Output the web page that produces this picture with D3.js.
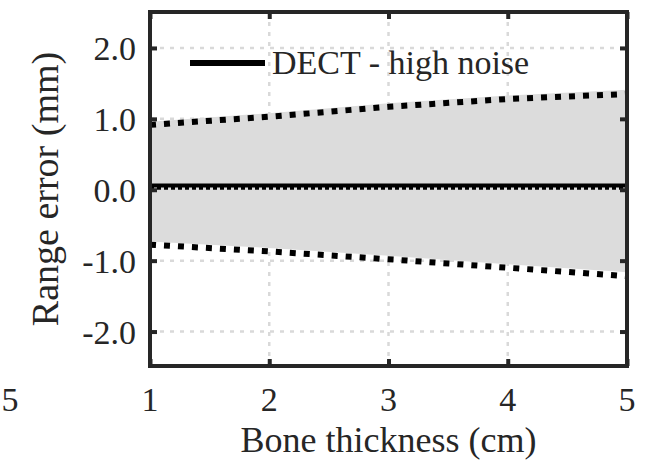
<!DOCTYPE html>
<html><head><meta charset="utf-8">
<script src="https://cdn.jsdelivr.net/npm/d3@7"></script>
</head><body style="margin:0"><svg id="c" width="649" height="472"></svg>
<script>
const thickness = [1, 2, 3, 4, 5];
const meanErr = [0.06, 0.06, 0.06, 0.06, 0.06];
const meanDotted = [0.02, 0.02, 0.02, 0.02, 0.02];
const upperLine = [0.915, 1.03, 1.17, 1.28, 1.35];
const lowerLine = [-0.775, -0.87, -0.98, -1.10, -1.22];
const bandUpper = [0.96, 1.08, 1.22, 1.33, 1.41];
const bandLower = [-0.73, -0.82, -0.93, -1.05, -1.165];
const xTicks = [1, 2, 3, 4, 5];
const yTicks = [-2, -1, 0, 1, 2];
const legendLabel = "DECT - high noise";
const xLabel = "Bone thickness (cm)";
const yLabel = "Range error (mm)";

const svg = d3.select("#c");
const L = 150, R = 627, T = 12, B = 366;
const x = d3.scaleLinear().domain([1, 5]).range([L, R]);
const y = d3.scaleLinear().domain([-2.5, 2.5]).range([B + 1, T + 0.5]);

const BASE = 26;
function label(px, py, size, anchor, txt, rot) {
  const k = size / BASE;
  return svg.append("text")
    .attr("transform", `translate(${px},${py})` + (rot ? ` rotate(${rot})` : "") + ` scale(${k})`)
    .attr("text-anchor", anchor)
    .style("font-family", "'Liberation Serif'").style("font-size", BASE + "px")
    .attr("fill", "#262626").text(txt);
}

// grid
const g = svg.append("g");
g.selectAll(".gx").data(xTicks.slice(1, -1)).join("line")
  .attr("x1", d => x(d)).attr("x2", d => x(d)).attr("y1", T).attr("y2", B)
  .attr("stroke", "#d9d9d9").attr("stroke-width", 2.5).attr("stroke-dasharray", "4,6");
g.selectAll(".gy").data(yTicks).join("line")
  .attr("y1", d => y(d)).attr("y2", d => y(d)).attr("x1", L).attr("x2", R)
  .attr("stroke", "#d9d9d9").attr("stroke-width", 2.5).attr("stroke-dasharray", "4,6");

// band
const pts = thickness.map((t, i) => ({t, u: bandUpper[i], l: bandLower[i]}));
svg.append("path").datum(pts)
  .attr("d", d3.area().x(d => x(d.t)).y0(d => y(d.l)).y1(d => y(d.u)))
  .attr("fill", "#dcdcdc");

const line = d3.line().x((d, i) => x(thickness[i])).y(d => y(d));
svg.append("path").datum(upperLine).attr("d", line).attr("fill", "none")
  .attr("stroke", "#000").attr("stroke-width", 6).attr("stroke-dasharray", "6,8");
svg.append("path").datum(lowerLine).attr("d", line).attr("fill", "none")
  .attr("stroke", "#000").attr("stroke-width", 6).attr("stroke-dasharray", "6,8");
svg.append("path").datum(meanDotted).attr("d", line).attr("fill", "none")
  .attr("stroke", "#000").attr("stroke-width", 3).attr("stroke-dasharray", "4,3");
svg.append("path").datum(meanErr).attr("d", line).attr("fill", "none")
  .attr("stroke", "#000").attr("stroke-width", 4);

// box
svg.append("rect").attr("x", L).attr("y", T).attr("width", R - L).attr("height", B - T)
  .attr("fill", "none").attr("stroke", "#262626").attr("stroke-width", 4);

// inward tick marks
const axL = svg.append("g").attr("transform", `translate(${L},0)`)
  .call(d3.axisLeft(y).tickValues(yTicks).tickSize(-7).tickFormat(""));
const axR = svg.append("g").attr("transform", `translate(${R},0)`)
  .call(d3.axisRight(y).tickValues(yTicks).tickSize(-7).tickFormat(""));
const axB = svg.append("g").attr("transform", `translate(0,${B})`)
  .call(d3.axisBottom(x).tickValues(xTicks).tickSize(-7).tickFormat(""));
const axT = svg.append("g").attr("transform", `translate(0,${T})`)
  .call(d3.axisTop(x).tickValues(xTicks).tickSize(-7).tickFormat(""));
[axL, axR, axB, axT].forEach(a => {
  a.select(".domain").remove();
  a.selectAll(".tick text").remove();
  a.selectAll(".tick line").attr("stroke", "#262626").attr("stroke-width", 4);
});

// tick labels
yTicks.forEach(d => label(136, y(d) + 12, 34, "end", d3.format(".1f")(d).replace("\u2212", "-")));
xTicks.forEach(d => label(x(d), 411, 34, "middle", String(d)));
label(10, 411, 34, "middle", "5");

// axis titles
label((L + R) / 2, 452, 36, "middle", xLabel);
label(58, (T + B) / 2, 38, "middle", yLabel, -90);

// legend
svg.append("line").attr("x1", 190).attr("x2", 265).attr("y1", 63).attr("y2", 63)
  .attr("stroke", "#000").attr("stroke-width", 6);
label(272, 74, 34, "start", legendLabel);
</script></body></html>
